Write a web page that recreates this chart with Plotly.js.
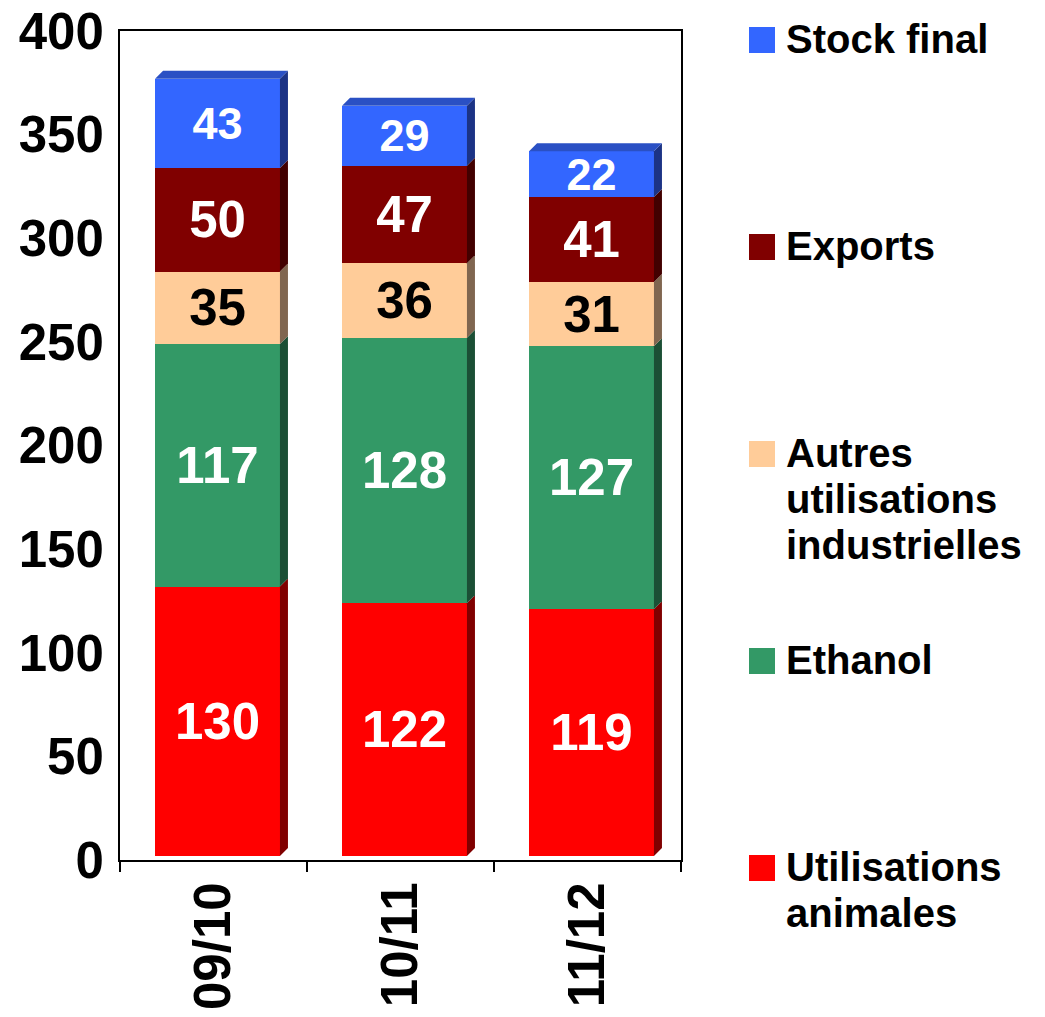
<!DOCTYPE html>
<html>
<head>
<meta charset="utf-8">
<script src="https://cdn.plot.ly/plotly-3.0.1.min.js"></script>
<style>
  html, body { margin: 0; padding: 0; background: #ffffff; }
  #chart { width: 1045px; height: 1017px; }
</style>
</head>
<body>
<div id="chart"></div>
<script>
// ---------- data ----------
const categories = ['09/10', '10/11', '11/12'];
const seriesNames = ['Utilisations animales', 'Ethanol', 'Autres utilisations industrielles', 'Exports', 'Stock final'];
const utilisationsAnimales = [130, 122, 119];
const ethanol = [117, 128, 127];
const autresUtilisations = [35, 36, 31];
const exportsValues = [50, 47, 41];
const stockFinal = [43, 29, 22];
const yTickValues = [0, 50, 100, 150, 200, 250, 300, 350, 400];
// legend labels, top to bottom, split into lines as in the original
const legendOrder = ['Stock final', 'Exports', 'Autres utilisations industrielles', 'Ethanol', 'Utilisations animales'];
const legendLines = [['Stock final'], ['Exports'], ['Autres', 'utilisations', 'industrielles'], ['Ethanol'], ['Utilisations', 'animales']];

// ---------- styles ----------
const FONT = 'Liberation Sans, Arial, sans-serif';
const frontColors = ['#FF0000', '#339966', '#FFCC99', '#800000', '#3366FF'];
const sideColors  = ['#800000', '#1B4F35', '#806650', '#420000', '#1C3385'];
const topColor = '#2A50C4';
const labelColors = ['#ffffff', '#ffffff', '#000000', '#ffffff', '#ffffff'];
const labelSizes = [51, 51, 51, 51, 45];

const W = 1045, H = 1017;
const M = { l: 120, r: 364, t: 31, b: 157 };
const plotW = W - M.l - M.r;   // 561
const plotH = H - M.t - M.b;   // 829
const yMax = 400;
const barWidth = 0.668;
const depthPx = 8;            // 3-D depth of the bars, in pixels
const frontShiftPx = 4;       // front faces sit half a depth in front of the axes

const xRange = [-0.5, categories.length - 0.5];
const pxPerX = plotW / (xRange[1] - xRange[0]);
const pxPerY = plotH / yMax;
const shiftX = frontShiftPx / pxPerX;
const shiftY = frontShiftPx / pxPerY;
const dX = depthPx / pxPerX;
const dY = depthPx / pxPerY;

const seriesValues = [utilisationsAnimales, ethanol, autresUtilisations, exportsValues, stockFinal];
const xIdx = categories.map((c, i) => i);
const totals = xIdx.map(i => seriesValues.reduce((a, v) => a + v[i], 0));

// ---------- traces ----------
const traces = seriesValues.map((vals, s) => ({
  type: 'bar',
  name: seriesNames[s],
  x: xIdx,
  y: vals,
  xaxis: 'x2',
  yaxis: 'y2',
  width: barWidth,
  marker: { color: frontColors[s], line: { width: 0 } },
  text: vals.map(String),
  texttemplate: '%{text}',
  textposition: 'inside',
  insidetextanchor: 'middle',
  textangle: 0,
  constraintext: 'none',
  textfont: { family: FONT, size: labelSizes[s], color: labelColors[s], weight: 'bold' },
  hovertext: categories,
  hovertemplate: '%{hovertext}<br>' + seriesNames[s] + ': %{y}<extra></extra>',
  showlegend: false
}));
// carrier trace (draws nothing) so that the visible x/y axes frame is created
traces.unshift({
  type: 'scatter', mode: 'none', x: xIdx, y: totals,
  xaxis: 'x', yaxis: 'y', hoverinfo: 'skip', showlegend: false
});

// ---------- 3-D faces (side and top), built from the stacked values ----------
const shapes = [];
const p = (x, y) => x.toFixed(5) + ',' + y.toFixed(4);
xIdx.forEach((xi) => {
  let base = 0;
  const xl = xi - barWidth / 2, xr = xi + barWidth / 2;
  seriesValues.forEach((vals, s) => {
    const top = base + vals[xi];
    shapes.push({
      type: 'path', xref: 'x2', yref: 'y2', layer: 'above',
      path: 'M' + p(xr, base) + ' L' + p(xr + dX, base + dY) + ' L' + p(xr + dX, top + dY) + ' L' + p(xr, top) + ' Z',
      fillcolor: sideColors[s], line: { width: 0 }
    });
    base = top;
  });
  shapes.push({
    type: 'path', xref: 'x2', yref: 'y2', layer: 'above',
    path: 'M' + p(xl, base) + ' L' + p(xl + dX, base + dY) + ' L' + p(xr + dX, base + dY) + ' L' + p(xr, base) + ' Z',
    fillcolor: topColor, line: { width: 0 }
  });
});

// ---------- legend (squares + text lines) ----------
const toPaperX = (px) => (px - M.l) / plotW;
const toPaperY = (py) => (M.t + plotH - py) / plotH;
const legendFirstBaseline = 53;
const legendItemStep = 207;
const legendLineStep = 46;
const annotations = [];
legendOrder.forEach((name, k) => {
  const s = seriesNames.indexOf(name);
  const baseline = legendFirstBaseline + k * legendItemStep;
  const sqCenter = baseline - 13;
  shapes.push({
    type: 'rect', xref: 'paper', yref: 'paper',
    x0: toPaperX(749), x1: toPaperX(775),
    y0: toPaperY(sqCenter + 13), y1: toPaperY(sqCenter - 13),
    fillcolor: frontColors[s], line: { width: 0 }
  });
  legendLines[k].forEach((line, j) => {
    annotations.push({
      xref: 'paper', yref: 'paper',
      x: toPaperX(784), y: toPaperY(baseline + j * legendLineStep - 14),
      xanchor: 'left', yanchor: 'middle',
      text: line, showarrow: false,
      font: { family: FONT, size: 40, color: '#000000', weight: 'bold' }
    });
  });
});

const layout = {
  width: W, height: H,
  margin: M,
  paper_bgcolor: '#ffffff',
  plot_bgcolor: '#ffffff',
  barmode: 'stack',
  bargap: 0,
  showlegend: false,
  font: { family: FONT, color: '#000000' },
  xaxis: {
    range: xRange,
    tickmode: 'array',
    tickvals: xIdx,
    ticktext: categories,
    tickangle: -90,
    ticks: '',
    ticklabelstandoff: 0,
    tickfont: { family: FONT, size: 51, color: '#000000', weight: 'bold' },
    minor: {
      tickmode: 'array',
      tickvals: [-0.5, 0.5, 1.5, 2.5],
      ticks: 'outside', ticklen: 10, tickwidth: 2, tickcolor: '#000000', showgrid: false
    },
    showline: true, linewidth: 2, linecolor: '#000000', mirror: true,
    showgrid: false, zeroline: false, fixedrange: true
  },
  yaxis: {
    range: [0, yMax],
    tickmode: 'array',
    tickvals: yTickValues,
    ticktext: yTickValues.map(String),
    ticks: '',
    ticklabelstandoff: 4,
    tickfont: { family: FONT, size: 51, color: '#000000', weight: 'bold' },
    showline: true, linewidth: 2, linecolor: '#000000', mirror: true,
    showgrid: false, zeroline: false, fixedrange: true
  },
  xaxis2: {
    overlaying: 'x', anchor: 'y2',
    range: [xRange[0] - shiftX, xRange[1] - shiftX],
    visible: false, showgrid: false, zeroline: false, fixedrange: true
  },
  yaxis2: {
    overlaying: 'y', anchor: 'x2',
    range: [-shiftY, yMax - shiftY],
    visible: false, showgrid: false, zeroline: false, fixedrange: true
  },
  shapes: shapes,
  annotations: annotations
};

Plotly.newPlot('chart', traces, layout, { displayModeBar: false, staticPlot: true });
</script>
</body>
</html>
